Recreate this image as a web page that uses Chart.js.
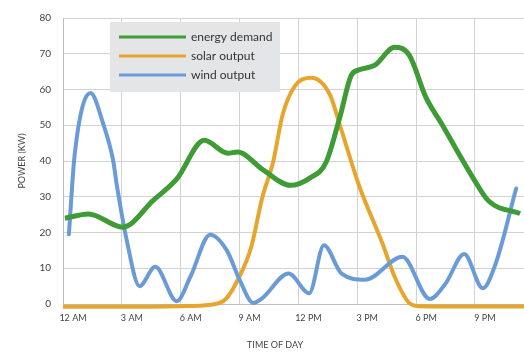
<!DOCTYPE html>
<html>
<head>
<meta charset="utf-8">
<script src="https://cdn.jsdelivr.net/npm/chart.js@4"></script>
<style>
  html, body { margin: 0; padding: 0; background: #fff; }
  #wrap { width: 524px; height: 352px; }
</style>
</head>
<body>
<div id="wrap"><canvas id="grafico" width="524" height="352"></canvas></div>
<script>
// ticks do eixo x (horas) e rótulos
const horasTicks = [0, 3, 6, 9, 12, 15, 18, 21];
const rotulosHora = ['12 AM', '3 AM', '6 AM', '9 AM', '12 PM', '3 PM', '6 PM', '9 PM'];

// energy demand
const demandaHoras = [0.1, 1.3, 3.05, 4.6, 5.8, 7.2, 8.4, 8.9, 10.2, 11.6, 12.6, 13.4, 14.1, 14.7, 15.1, 15.9, 16.9, 17.65, 18.5, 19.3, 20.9, 21.7, 23.3];
const demanda = [24, 25.2, 21.5, 29, 35, 45.8, 42.2, 42.5, 37.5, 33.2, 35.3, 39.5, 52, 64, 65.5, 66.8, 71.8, 69.6, 57.8, 50.4, 35.3, 28.8, 25.3];

// solar output
const solarHoras = [0, 3, 6, 7.5, 8.3, 9, 9.6, 10.15, 10.7, 11.2, 11.8, 12.65, 13.6, 14.2, 15.1, 16.3, 16.9, 17.65, 18.2, 21, 23.5];
const solar = [-0.8, -0.8, -0.6, -0.2, 1.4, 7.7, 16, 29.6, 39.5, 53, 60.8, 63.3, 58.6, 48.5, 33, 16.7, 7.7, 0.3, -0.6, -0.7, -0.7];

// wind output
const ventoHoras = [0.3, 0.6, 1.4, 2.05, 2.55, 2.75, 3.25, 3.9, 4.7, 5.8, 6.5, 7.5, 8.35, 9.0, 9.7, 10.15, 11.5, 12.55, 13.3, 14.2, 15.4, 17.3, 18.7, 19.5, 20.45, 21.4, 22.05, 23.1];
const vento = [19.5, 42, 59, 50.4, 40.3, 33, 17.8, 5, 10.4, 0.8, 7.7, 19.4, 15, 6.8, 0.3, 1.6, 8.5, 3, 16.4, 8.5, 6.8, 13.2, 1.4, 5.7, 14, 4.4, 11.2, 32.3];

function pares(xs, ys) {
  return xs.map((x, i) => ({ x: x, y: ys[i] }));
}

// legenda desenhada dentro da área do gráfico
const legendaInterna = {
  id: 'legendaInterna',
  afterDatasetsDraw(chart) {
    const ctx = chart.ctx;
    ctx.save();
    ctx.fillStyle = '#e4e5e6';
    ctx.fillRect(110, 22, 170, 70);
    ctx.font = '12px Lato';
    ctx.textBaseline = 'middle';
    chart.data.datasets.forEach((ds, i) => {
      const y = 37 + i * 19;
      ctx.strokeStyle = ds.borderColor;
      ctx.lineWidth = 3;
      ctx.beginPath();
      ctx.moveTo(119, y);
      ctx.lineTo(186, y);
      ctx.stroke();
      ctx.fillStyle = '#333';
      ctx.fillText(ds.label, 191, y);
    });
    ctx.restore();
  }
};

const ctx = document.getElementById('grafico').getContext('2d');

new Chart(ctx, {
  type: 'line',
  data: {
    datasets: [
      {
        label: 'energy demand',
        data: pares(demandaHoras, demanda),
        borderColor: '#3f9b35',
        borderWidth: 5,
        pointRadius: 0,
        cubicInterpolationMode: 'monotone',
        clip: false,
        order: 1
      },
      {
        label: 'solar output',
        data: pares(solarHoras, solar),
        borderColor: '#e6a62e',
        borderWidth: 4,
        pointRadius: 0,
        cubicInterpolationMode: 'monotone',
        clip: false,
        order: 3
      },
      {
        label: 'wind output',
        data: pares(ventoHoras, vento),
        borderColor: '#6b9bd6',
        borderWidth: 4,
        pointRadius: 0,
        cubicInterpolationMode: 'monotone',
        borderCapStyle: 'round',
        clip: false,
        order: 2
      }
    ]
  },
  options: {
    responsive: false,
    animation: false,
    layout: { padding: { top: 13, right: 0, left: 0, bottom: 0 } },
    plugins: {
      legend: { display: false },
      tooltip: { enabled: false }
    },
    scales: {
      x: {
        type: 'linear',
        min: 0,
        max: 23.5,
        afterBuildTicks: (scale) => { scale.ticks = horasTicks.map(v => ({ value: v })); },
        afterFit: (scale) => { scale.height = 48; },
        grid: { color: '#d2d2d2', lineWidth: 1, drawTicks: false },
        border: { color: '#bdbdbd' },
        ticks: {
          padding: 9,
          labelOffset: 10,
          maxRotation: 0,
          autoSkip: false,
          color: '#444',
          font: { family: 'Lato', size: 9 },
          callback: (v) => rotulosHora[horasTicks.indexOf(v)]
        },
        title: {
          display: true,
          // espaços no fim deslocam o título para a esquerda, como no original
          text: 'TIME OF DAY                ',
          color: '#444',
          font: { family: 'Lato', size: 9 },
          padding: { top: 0, bottom: 2 }
        }
      },
      y: {
        min: 0,
        max: 80,
        afterFit: (scale) => { scale.width = 63; },
        grid: { color: '#d2d2d2', lineWidth: 1, drawTicks: false },
        border: { color: '#bdbdbd' },
        ticks: {
          stepSize: 10,
          padding: 12,
          color: '#444',
          font: { family: 'Lato', size: 10 }
        },
        title: {
          display: true,
          text: 'POWER (KW)',
          color: '#444',
          font: { family: 'Lato', size: 9 },
          padding: { top: 17, bottom: 0 }
        }
      }
    }
  },
  plugins: [legendaInterna]
});
</script>
</body>
</html>
